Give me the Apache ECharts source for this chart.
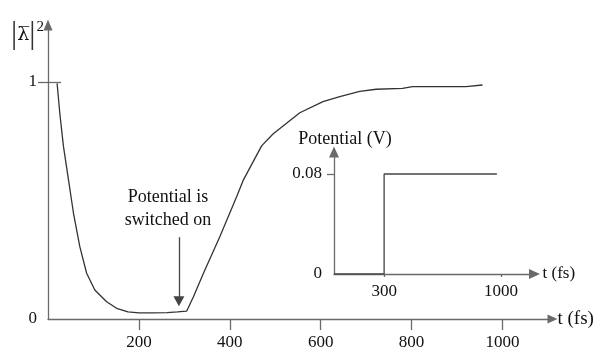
<!DOCTYPE html>
<html>
<head>
<meta charset="utf-8">
<script src="https://cdn.jsdelivr.net/npm/echarts@6/dist/echarts.min.js"></script>
<style>html,body{margin:0;padding:0;background:#fff}#c{width:602px;height:355px}</style>
</head>
<body>
<div id="c"></div>
<script>
// Main curve |lambda|^2 vs t (fs)
const mainT = [20, 26, 34, 45, 56, 70, 85, 103, 129, 151, 176, 200, 230, 262, 285, 305, 320, 342, 378, 415, 430, 470, 495, 554, 605, 642, 686, 722, 780, 802, 920, 956];
const mainV = [0.994, 0.868, 0.728, 0.588, 0.447, 0.305, 0.193, 0.122, 0.073, 0.045, 0.03, 0.026, 0.026, 0.027, 0.03, 0.033, 0.094, 0.193, 0.347, 0.516, 0.587, 0.73, 0.78, 0.87, 0.917, 0.938, 0.96, 0.969, 0.973, 0.98, 0.98, 0.987];
// Inset: potential (V) vs t (fs)
const stepT = [0, 300, 300, 975];
const stepV = [0, 0, 0.08, 0.08];
// Tick labels
const mainXTicks = [200, 400, 600, 800, 1000];
const mainYTicks = [0, 1];
const insetXTicks = [300, 1000];
const insetYTicks = [0, 0.08];
// Annotation
const switchT = 288;
const annText = 'Potential is\nswitched on';

const FONT = '"Liberation Serif", "Times New Roman", "DejaVu Serif", serif';
const AX = '#6a6a6a';
const pair = (xs, ys) => xs.map((x, i) => [x, ys[i]]);
const plain = v => String(v);

const chart = echarts.init(document.getElementById('c'), null, {renderer: 'canvas'});
chart.setOption({
  animation: false,
  backgroundColor: '#fff',
  textStyle: {fontFamily: FONT, color: '#111'},
  grid: [
    {left: 48, width: 504.5, top: 25, height: 294},
    {left: 334, width: 200.5, top: 152, height: 122}
  ],
  xAxis: [
    {
      type: 'value', gridIndex: 0, min: 0, max: 1110,
      splitLine: {show: false},
      axisLine: {lineStyle: {color: AX, width: 1.3}, symbol: ['none', 'triangle'], symbolSize: [9, 10]},
      axisTick: {customValues: mainXTicks, length: 11, lineStyle: {color: AX, width: 1.3}},
      axisLabel: {customValues: mainXTicks, formatter: plain, margin: 15, color: '#111', fontFamily: FONT, fontSize: 17},
      name: 't (fs)', nameLocation: 'end', nameGap: 5,
      nameTextStyle: {color: '#111', fontFamily: FONT, fontSize: 19, verticalAlign: 'middle'}
    },
    {
      type: 'value', gridIndex: 1, min: 0, max: 1200,
      splitLine: {show: false},
      axisLine: {lineStyle: {color: AX, width: 1.3}, symbol: ['none', 'triangle'], symbolSize: [10, 11]},
      axisTick: {customValues: insetXTicks, length: 3, lineStyle: {color: AX, width: 1.3}},
      axisLabel: {customValues: insetXTicks, formatter: plain, margin: 9, color: '#111', fontFamily: FONT, fontSize: 17},
      name: 't (fs)', nameLocation: 'end', nameGap: 8,
      nameTextStyle: {color: '#111', fontFamily: FONT, fontSize: 17, verticalAlign: 'middle'}
    }
  ],
  yAxis: [
    {
      type: 'value', gridIndex: 0, min: 0, max: 1.24,
      splitLine: {show: false},
      axisLine: {lineStyle: {color: AX, width: 1.3}, symbol: ['none', 'triangle'], symbolSize: [9, 11]},
      axisTick: {customValues: [1], length: 10, lineStyle: {color: AX, width: 1.3}},
      axisLabel: {customValues: mainYTicks, formatter: plain, margin: 11, color: '#111', fontFamily: FONT, fontSize: 17},
      name: '{bar||}{lam|\u03bb\u0305}{bar||}{sup|2}', nameLocation: 'end', nameGap: -10,
      nameTextStyle: {
        align: 'right', verticalAlign: 'middle', padding: [0, 4, 0, 0],
        rich: {
          bar: {fontFamily: FONT, fontSize: 31, color: '#333', verticalAlign: 'middle'},
          lam: {fontFamily: '"DejaVu Serif", serif', fontSize: 19, color: '#111', verticalAlign: 'middle'},
          sup: {fontFamily: FONT, fontSize: 15, color: '#111', verticalAlign: 'top', padding: [0, 0, 16, 1]}
        }
      }
    },
    {
      type: 'value', gridIndex: 0, min: 0, max: 1.24, position: 'left',
      splitLine: {show: false}, axisLine: {show: false}, axisLabel: {show: false},
      axisTick: {customValues: [1], inside: true, length: 13, lineStyle: {color: AX, width: 1.3}}
    },
    {
      type: 'value', gridIndex: 1, min: 0, max: 0.0976,
      splitLine: {show: false},
      axisLine: {lineStyle: {color: AX, width: 1.3}, symbol: ['none', 'triangle'], symbolSize: [10, 11]},
      axisTick: {customValues: [0.08], length: 7, lineStyle: {color: AX, width: 1.3}},
      axisLabel: {customValues: insetYTicks, formatter: plain, margin: 12, color: '#111', fontFamily: FONT, fontSize: 17},
      name: 'Potential (V)', nameLocation: 'end', nameGap: 4,
      nameTextStyle: {color: '#111', fontFamily: FONT, fontSize: 18, align: 'center', verticalAlign: 'bottom', padding: [0, 0, 0, 22]}
    }
  ],
  series: [
    {
      type: 'line', xAxisIndex: 0, yAxisIndex: 0,
      data: pair(mainT, mainV), showSymbol: false, symbol: 'none',
      lineStyle: {color: '#333', width: 1.3},
      markLine: {
        silent: true, symbol: ['none', 'triangle'], symbolSize: [11, 10],
        lineStyle: {color: '#444', width: 1.3, type: 'solid'},
        label: {
          show: true, position: 'start', formatter: annText, distance: 5,
          color: '#111', fontFamily: FONT, fontSize: 18, lineHeight: 23, align: 'center',
          padding: [0, 22, 0, 0]
        },
        data: [[{coord: [switchT, 0.345]}, {coord: [switchT, 0.075]}]]
      }
    },
    {
      type: 'line', xAxisIndex: 1, yAxisIndex: 2,
      data: pair(stepT, stepV), showSymbol: false, symbol: 'none',
      lineStyle: {color: '#444', width: 1.3}
    }
  ]
});
</script>
</body>
</html>
